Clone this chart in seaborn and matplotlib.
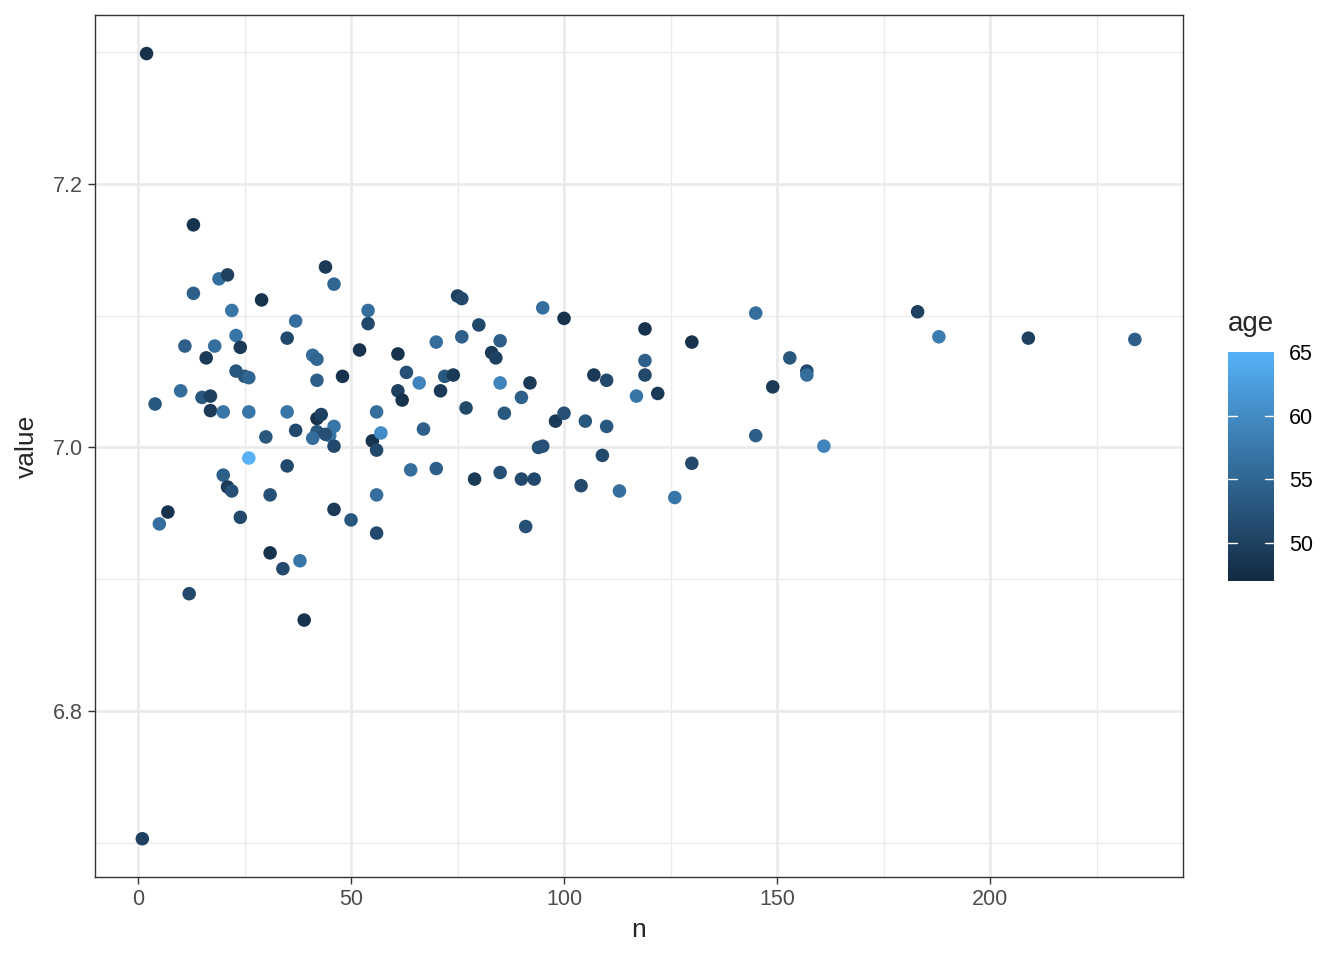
import numpy as np
import pandas as pd
import matplotlib
matplotlib.use("Agg")
import matplotlib.pyplot as plt
import seaborn as sns
from matplotlib.colors import LinearSegmentedColormap, Normalize
from matplotlib.ticker import MultipleLocator

n = [2, 1, 13, 13, 4, 5, 7, 12, 11, 10, 16, 15, 17, 17, 18, 19, 21, 22, 23, 24,
     23, 25, 26, 20, 26, 26, 20, 21, 22, 24, 29, 30, 31, 31, 34, 35, 37, 35, 37, 35,
     38, 39, 41, 42, 42, 44, 46, 42, 43, 42, 41, 46, 45, 46, 46, 48, 50, 52, 54, 54,
     55, 56, 56, 57, 56, 56, 61, 61, 62, 63, 66, 67, 64, 70, 70, 71, 72, 74, 75, 76,
     76, 77, 79, 80, 83, 84, 85, 85, 86, 85, 90, 90, 91, 92, 93, 94, 95, 95, 100, 98,
     100, 104, 105, 107, 109, 110, 110, 113, 117, 119, 119, 119, 122, 126, 130, 130, 145, 145, 149, 153,
     157, 157, 161, 183, 188, 209, 234, 44]
value = [7.299, 6.703, 7.169, 7.117, 7.033, 6.942, 6.951, 6.889, 7.077, 7.043,
         7.068, 7.038, 7.039, 7.028, 7.077, 7.128, 7.131, 7.104, 7.085, 7.076,
         7.058, 7.054, 7.053, 7.027, 7.027, 6.992, 6.979, 6.970, 6.967, 6.947,
         7.112, 7.008, 6.964, 6.920, 6.908, 7.083, 7.096, 7.027, 7.013, 6.986,
         6.914, 6.869, 7.070, 7.067, 7.051, 7.137, 7.124, 7.022, 7.025, 7.012,
         7.007, 7.016, 7.009, 7.001, 6.953, 7.054, 6.945, 7.074, 7.104, 7.094,
         7.005, 6.998, 7.027, 7.011, 6.964, 6.935, 7.071, 7.043, 7.036, 7.057,
         7.049, 7.014, 6.983, 7.080, 6.984, 7.043, 7.054, 7.055, 7.115, 7.113,
         7.084, 7.030, 6.976, 7.093, 7.072, 7.068, 7.081, 7.049, 7.026, 6.981,
         7.038, 6.976, 6.940, 7.049, 6.976, 7.000, 7.001, 7.106, 7.098, 7.020,
         7.026, 6.971, 7.020, 7.055, 6.994, 7.051, 7.016, 6.967, 7.039, 7.090,
         7.066, 7.055, 7.041, 6.962, 7.080, 6.988, 7.102, 7.009, 7.046, 7.068,
         7.058, 7.055, 7.001, 7.103, 7.084, 7.083, 7.082, 7.010]
age = [48, 50, 48, 54, 53, 56, 48, 51, 54, 56, 49, 53, 50, 49, 56, 56, 50, 57, 57, 49,
       53, 53, 55, 57, 57, 65, 54, 49, 52, 51, 48, 53, 52, 48, 51, 51, 56, 57, 51, 51,
       57, 48, 56, 55, 54, 49, 55, 48, 50, 53, 56, 57, 57, 51, 49, 48, 53, 48, 56, 51,
       48, 51, 56, 60, 56, 51, 48, 50, 48, 52, 59, 54, 56, 56, 54, 49, 53, 49, 50, 51,
       54, 51, 49, 51, 49, 50, 54, 59, 53, 52, 54, 51, 52, 49, 51, 52, 52, 56, 48, 49,
       52, 51, 53, 49, 51, 51, 53, 56, 57, 48, 54, 51, 49, 57, 48, 51, 56, 54, 49, 53,
       51, 56, 59, 50, 58, 50, 54, 52]

df = pd.DataFrame({"n": n, "value": value, "age": age})

sns.set_theme(style="white")
plt.rcParams["font.family"] = ["Liberation Sans", "DejaVu Sans"]

cmap = LinearSegmentedColormap.from_list("gg", ["#132B43", "#56B1F7"])
norm = Normalize(47, 65)

fig = plt.figure(figsize=(13.44, 9.6), dpi=100)
ax = fig.add_axes([0.0707, 0.0865, 0.8095, 0.8975])

sns.scatterplot(data=df, x="n", y="value", hue="age", palette=cmap, hue_norm=norm,
                s=95, linewidth=0, legend=False, ax=ax, zorder=3)

ax.set_xlim(-10.1, 245.3)
ax.set_ylim(6.674, 7.328)
ax.xaxis.set_major_locator(MultipleLocator(50))
ax.xaxis.set_minor_locator(MultipleLocator(25))
ax.set_yticks([6.8, 7.0, 7.2])
ax.set_yticks([6.7, 6.9, 7.1, 7.3], minor=True)
ax.grid(which="major", color="#EBEBEB", linewidth=2)
ax.grid(which="minor", color="#EBEBEB", linewidth=1)
ax.set_axisbelow(True)
for sp in ax.spines.values():
    sp.set_color("#333333")
    sp.set_linewidth(1)
ax.tick_params(which="major", length=5, width=1, color="#333333",
               labelcolor="#4D4D4D", labelsize=15.5, bottom=True, left=True)
ax.tick_params(which="minor", length=0)
ax.set_xlabel("n", fontsize=19, labelpad=6)
ax.set_ylabel("value", fontsize=19, labelpad=10)

# colourbar legend
cax = fig.add_axes([0.9137, 0.3948, 0.0342, 0.2385])
grad = np.linspace(47, 65, 256).reshape(-1, 1)
cax.imshow(grad, aspect="auto", cmap=cmap, norm=norm, origin="lower",
           extent=[0, 1, 47, 65])
for t in [50, 55, 60]:
    cax.plot([0, 0.2], [t, t], color="white", lw=1)
    cax.plot([0.8, 1], [t, t], color="white", lw=1)
cax.set_xlim(0, 1)
cax.set_ylim(47, 65)
cax.set_xticks([])
cax.yaxis.tick_right()
cax.set_yticks([50, 55, 60, 65])
cax.tick_params(axis="y", length=0, labelsize=15.5, labelcolor="black", pad=11)
for sp in cax.spines.values():
    sp.set_visible(False)
fig.text(0.9137, 0.649, "age", fontsize=20, ha="left", va="bottom")

fig.savefig("out.png", dpi=100)
